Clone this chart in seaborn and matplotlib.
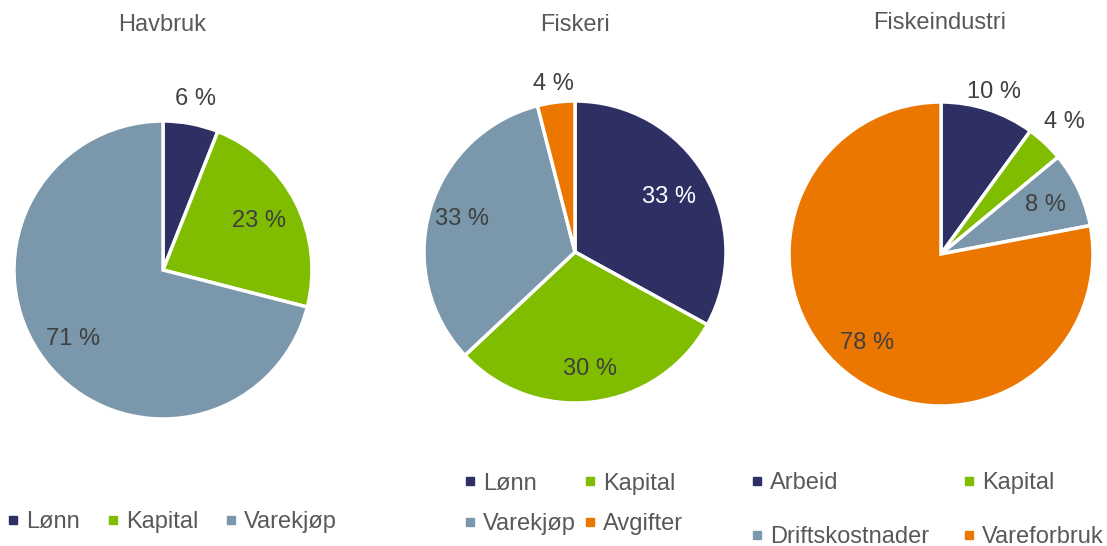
import matplotlib
matplotlib.use("Agg")
import matplotlib.pyplot as plt
from matplotlib.lines import Line2D
import numpy as np
import seaborn as sns

# data
titles = ["Havbruk", "Fiskeri", "Fiskeindustri"]

havbruk_labels = ["Lønn", "Kapital", "Varekjøp"]
havbruk_values = [6, 23, 71]

fiskeri_labels = ["Lønn", "Kapital", "Varekjøp", "Avgifter"]
fiskeri_values = [33, 30, 33, 4]

industri_labels = ["Arbeid", "Kapital", "Driftskostnader", "Vareforbruk"]
industri_values = [10, 4, 8, 78]

NAVY = "#2e3064"
GREEN = "#80bd00"
GREY = "#7a97ab"
ORANGE = "#ec7700"

havbruk_colors = [NAVY, GREEN, GREY]
fiskeri_colors = [NAVY, GREEN, GREY, ORANGE]
industri_colors = [NAVY, GREEN, GREY, ORANGE]

sns.set_theme(style="white")
plt.rcParams["font.family"] = ["Liberation Sans", "DejaVu Sans"]

W, H = 1107, 546
fig = plt.figure(figsize=(W / 100, H / 100), dpi=100)

FS = 17
TEXT_GREY = "#595959"
LABEL_GREY = "#404040"


def pie_axes(cx, cy, r):
    return fig.add_axes([(cx - r) / W, 1 - (cy + r) / H, 2 * r / W, 2 * r / H])


def draw_pie(ax, values, colors, dists, text_colors):
    wedges, _ = ax.pie(
        values,
        colors=colors,
        startangle=90,
        counterclock=False,
        wedgeprops=dict(edgecolor="white", linewidth=2.5),
    )
    ax.set_xlim(-1, 1)
    ax.set_ylim(-1, 1)
    ax.set_aspect("equal")
    ax.axis("off")
    for w, v, d, tc in zip(wedges, values, dists, text_colors):
        th = np.deg2rad((w.theta1 + w.theta2) / 2)
        ax.text(d * np.cos(th), d * np.sin(th), f"{v} %",
                ha="center", va="center", fontsize=FS, color=tc)


def add_legend(labels, colors, x, y, ncol, colspace, rowspace):
    handles = [Line2D([], [], linestyle="none", marker="s", markersize=5.5,
                      markerfacecolor=c, markeredgecolor=c) for c in colors]
    fig.legend(handles, labels, loc="center left", bbox_to_anchor=(x / W, 1 - y / H),
               ncol=ncol, frameon=False, fontsize=FS, labelcolor=TEXT_GREY,
               handlelength=0.6, handletextpad=0.25, borderpad=0, borderaxespad=0,
               columnspacing=colspace, labelspacing=rowspace)


# -------------------------
# Havbruk
# -------------------------
ax1 = pie_axes(163, 270, 149)
draw_pie(ax1, havbruk_values, havbruk_colors, [1.17, 0.72, 0.76],
         [LABEL_GREY] * 3)
fig.text(162 / W, 1 - 25 / H, titles[0], ha="center", va="center",
         fontsize=FS, color=TEXT_GREY)
add_legend(havbruk_labels, havbruk_colors, 6, 522, 3, 1.1, 0.5)

# -------------------------
# Fiskeri
# -------------------------
ax2 = pie_axes(575, 252, 151)
draw_pie(ax2, fiskeri_values, fiskeri_colors, [0.72, 0.78, 0.78, 1.12],
         ["white", LABEL_GREY, LABEL_GREY, LABEL_GREY])
fig.text(575 / W, 1 - 25 / H, titles[1], ha="center", va="center",
         fontsize=FS, color=TEXT_GREY)
order = [0, 2, 1, 3]
add_legend([fiskeri_labels[i] for i in order], [fiskeri_colors[i] for i in order],
           463, 504, 2, 0.3, 0.8)

# -------------------------
# Fiskeindustri
# -------------------------
ax3 = pie_axes(941, 254, 152)
draw_pie(ax3, industri_values, industri_colors, [1.12, 1.19, 0.76, 0.76],
         [LABEL_GREY] * 4)
fig.text(940 / W, 1 - 23 / H, titles[2], ha="center", va="center",
         fontsize=FS, color=TEXT_GREY)
add_legend([industri_labels[i] for i in order], [industri_colors[i] for i in order],
           750, 510, 2, 1.4, 1.35)

fig.savefig("out.png", dpi=100, facecolor="white")
